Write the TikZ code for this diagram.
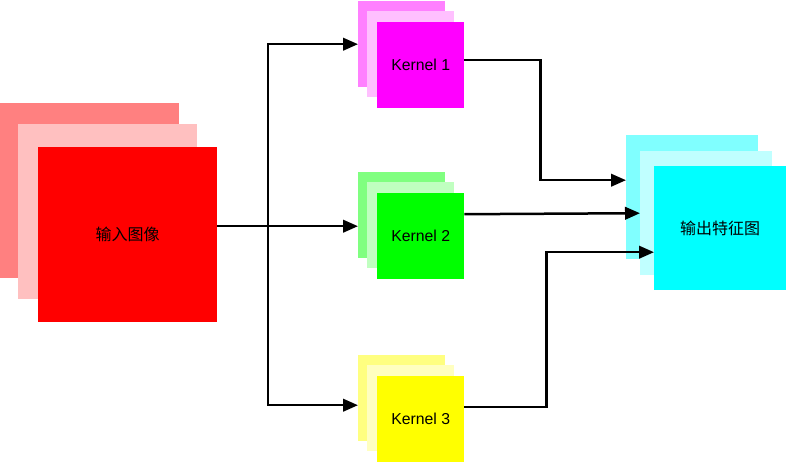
\documentclass[tikz,border=0pt]{standalone}
\usepackage{fontspec}
\setmainfont{Liberation Sans}
\newfontfamily\cjk{Noto Sans CJK SC}
\usetikzlibrary{arrows.meta}
\tikzset{
  sheet/.style={rectangle, draw=none, inner sep=0pt, anchor=north west},
  bigsheet/.style={sheet, minimum width=179pt, minimum height=175pt},
  kersheet/.style={sheet, minimum width=87pt, minimum height=86pt, font=\fontsize{15.8}{18}\selectfont},
  outsheet/.style={sheet, minimum width=132pt, minimum height=124pt},
  conn/.style={line width=2.5pt, -{Triangle[length=15pt,width=12.5pt]}},
}
\definecolor{rA}{HTML}{FF8080}\definecolor{rB}{HTML}{FFC0C0}\definecolor{rC}{HTML}{FF0000}
\definecolor{mA}{HTML}{FF80FF}\definecolor{mB}{HTML}{FFC0FF}\definecolor{mC}{HTML}{FF00FF}
\definecolor{gA}{HTML}{80FF80}\definecolor{gB}{HTML}{C0FFC0}\definecolor{gC}{HTML}{00FF00}
\definecolor{yA}{HTML}{FFFF80}\definecolor{yB}{HTML}{FFFFC0}\definecolor{yC}{HTML}{FFFF00}
\definecolor{cA}{HTML}{80FFFF}\definecolor{cB}{HTML}{C0FFFF}\definecolor{cC}{HTML}{00FFFF}
\begin{document}
\begin{tikzpicture}[x=1pt,y=-1pt]
\useasboundingbox (0,0) rectangle (786,463);
% input image stack
\node[bigsheet, fill=rA] (in1) at (0,103) {};
\node[bigsheet, fill=rB] (in2) at (18,124) {};
\node[bigsheet, fill=rC, font=\cjk\fontsize{16}{19}\selectfont] (in3) at (38,147) {输入图像};
% kernel 1
\node[kersheet, fill=mA] (k1a) at (358,1) {};
\node[kersheet, fill=mB] (k1b) at (367,11) {};
\node[kersheet, fill=mC] (k1c) at (377,22) {Kernel 1};
% kernel 2
\node[kersheet, fill=gA] (k2a) at (358,172) {};
\node[kersheet, fill=gB] (k2b) at (367,182) {};
\node[kersheet, fill=gC] (k2c) at (377,193) {Kernel 2};
% kernel 3
\node[kersheet, fill=yA] (k3a) at (358,355) {};
\node[kersheet, fill=yB] (k3b) at (367,365) {};
\node[kersheet, fill=yC] (k3c) at (377,376) {Kernel 3};
% output stack
\node[outsheet, fill=cA] (o1) at (626,135) {};
\node[outsheet, fill=cB] (o2) at (640,151) {};
\node[outsheet, fill=cC, font=\cjk\fontsize{16}{19}\selectfont] (o3) at (654,166) {输出特征图};
% connectors
\coordinate (j) at (268,226);
\draw[conn] ([yshift=8.5pt]in3.east) -- ([yshift=-11pt]k2a.west);
\draw[conn] (j) |- (k1a.west);
\draw[conn] (j) |- ([yshift=-7pt]k3a.west);
\draw[conn] ([yshift=5pt]k1c.east) -- ++(76,0) |- ([yshift=17pt]o1.west);
\draw[conn] ([yshift=22pt]k2c.east) -- (o2.west);
\draw[conn] ([yshift=12pt]k3c.east) -- ++(82,0) |- ([yshift=-24pt]o3.west);
\end{tikzpicture}
\end{document}
